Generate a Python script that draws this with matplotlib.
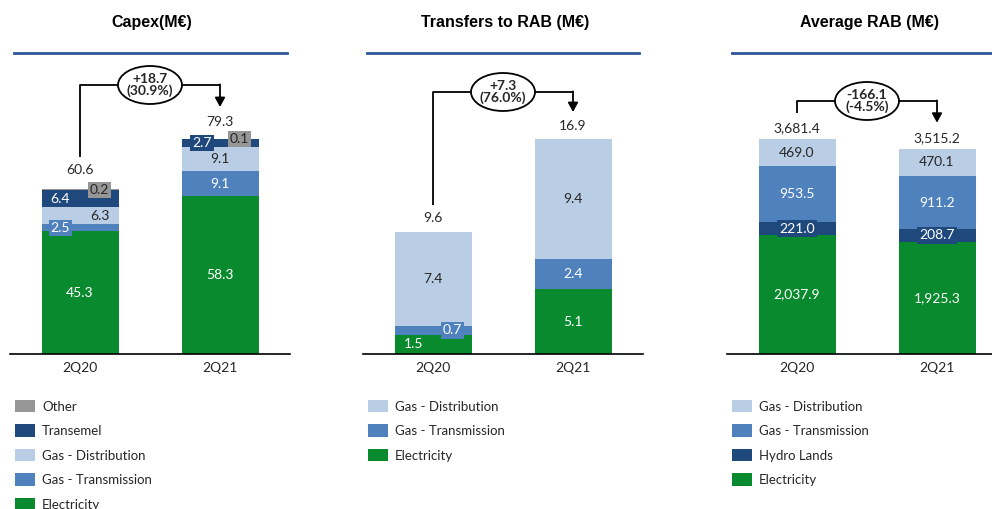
import matplotlib
matplotlib.use('Agg')
import matplotlib.pyplot as plt
from matplotlib.patches import Patch, Ellipse
from matplotlib.lines import Line2D

# ---------------- data ----------------
periods = ['2Q20', '2Q21']

capex_electricity = [45.3, 58.3]
capex_gas_transmission = [2.5, 9.1]
capex_gas_distribution = [6.3, 9.1]
capex_transemel = [6.4, 2.7]
capex_other = [0.2, 0.1]
capex_total = [60.6, 79.3]
capex_change = '+18.7\n(30.9%)'

transfers_electricity = [1.5, 5.1]
transfers_gas_transmission = [0.7, 2.4]
transfers_gas_distribution = [7.4, 9.4]
transfers_total = [9.6, 16.9]
transfers_change = '+7.3\n(76.0%)'

rab_electricity = [2037.9, 1925.3]
rab_hydro_lands = [221.0, 208.7]
rab_gas_transmission = [953.5, 911.2]
rab_gas_distribution = [469.0, 470.1]
rab_total = [3681.4, 3515.2]
rab_change = '-166.1\n(-4.5%)'

titles = ['Capex(M€)', 'Transfers to RAB (M€)', 'Average RAB (M€)']

# ---------------- style ----------------
W, H = 992, 509
fig = plt.figure(figsize=(W / 100, H / 100), dpi=100)
FONT = 'Lato'
TFONT = 'Liberation Sans'
GREEN = '#0A8A2E'
GT = '#4F81BD'
GD = '#B9CDE5'
DARK = '#1F497D'
GRAY = '#969696'
TXT = '#262626'
LINEBLUE = '#2F5597'
BASE_PX, TOP_PX = 354, 60
MAXBAR_PX = 215
BARW = 0.55
LBL = 10


def px_axes(left, right):
    ax = fig.add_axes([left / W, 1 - BASE_PX / H, (right - left) / W, (BASE_PX - TOP_PX) / H])
    for s in ['top', 'right', 'left']:
        ax.spines[s].set_visible(False)
    ax.spines['bottom'].set_color('black')
    ax.spines['bottom'].set_linewidth(1.2)
    ax.set_yticks([])
    ax.set_xticks([0, 1])
    ax.set_xticklabels(periods, fontfamily=FONT, fontsize=10, color=TXT)
    ax.tick_params(axis='x', length=0, pad=6)
    return ax


def fmt(v, comma):
    return f'{v:,.1f}' if comma else f'{v:.1f}'


def panel(ax, series, totals, change, total_off_px, bracket_px, comma=False):
    ymax = max(totals) * (BASE_PX - TOP_PX) / MAXBAR_PX
    ax.set_ylim(0, ymax)
    p2d = lambda p: p * ymax / (BASE_PX - TOP_PX)
    bottoms = [0.0, 0.0]
    for vals, color, tcol, boxcol, dxs in series:
        ax.bar([0, 1], vals, BARW, bottom=bottoms, color=color, edgecolor='none', zorder=2)
        for i, v in enumerate(vals):
            bc = boxcol[i] if boxcol is not None else None
            bb = dict(boxstyle='square,pad=0.15', fc=bc, ec='none') if bc is not None else None
            ax.text(i + dxs[i], bottoms[i] + v / 2, fmt(v, comma), ha='center', va='center',
                    fontfamily=FONT, fontsize=LBL, color=tcol, bbox=bb, zorder=4)
        bottoms = [b + v for b, v in zip(bottoms, vals)]
    for i, t in enumerate(totals):
        ax.text(i, t + p2d(total_off_px[i]), fmt(t, comma), ha='center', va='center',
                fontfamily=FONT, fontsize=LBL, color=TXT, zorder=4)
    # change bracket
    y_start = totals[0] + p2d(bracket_px[0])
    y_top = p2d(BASE_PX - bracket_px[1])
    y_tip = totals[1] + p2d(bracket_px[2])
    ax.plot([0, 0, 1, 1], [y_start, y_top, y_top, y_top], color='black', lw=1.3,
            clip_on=False, zorder=3, solid_capstyle='butt')
    ax.annotate('', xy=(1, y_tip), xytext=(1, y_top + p2d(0.6)),
                arrowprops=dict(arrowstyle='-|>,head_length=0.55,head_width=0.3', lw=1.3,
                                color='black', shrinkA=0, shrinkB=0), annotation_clip=False, zorder=3)
    ell = Ellipse((0.5, y_top), 64 / 140, p2d(38), fc='white', ec='black', lw=1.3,
                  clip_on=False, zorder=5)
    ax.add_patch(ell)
    ax.text(0.5, y_top, change, ha='center', va='center', fontfamily=FONT, fontweight='bold',
            fontsize=10, color=TXT, linespacing=1.0, zorder=6, clip_on=False)


# ---------------- panel 1 : Capex ----------------
ax1 = px_axes(10, 290)
ax1.set_xlim(-0.5, 1.5)
panel(ax1, [
    (capex_electricity, GREEN, 'white', None, [0, 0]),
    (capex_gas_transmission, GT, 'white', [GT, None], [-0.14, 0]),
    (capex_gas_distribution, GD, TXT, None, [0.14, 0]),
    (capex_transemel, DARK, 'white', [None, DARK], [-0.14, -0.13]),
    (capex_other, GRAY, TXT, [GRAY, GRAY], [0.14, 0.14]),
], capex_total, capex_change, [20, 17], [33, 85, 32])

# ---------------- panel 2 : Transfers ----------------
ax2 = px_axes(363, 643)
ax2.set_xlim(-0.5, 1.5)
panel(ax2, [
    (transfers_electricity, GREEN, 'white', None, [-0.14, 0]),
    (transfers_gas_transmission, GT, 'white', [GT, None], [0.14, 0]),
    (transfers_gas_distribution, GD, TXT, None, [0, 0]),
], transfers_total, transfers_change, [14, 13], [27, 92, 27])

# ---------------- panel 3 : Average RAB ----------------
ax3 = px_axes(727, 992)
ax3.set_xlim(-0.5, (992 - 797) / 140)
panel(ax3, [
    (rab_electricity, GREEN, 'white', None, [0, 0]),
    (rab_hydro_lands, DARK, 'white', [DARK, DARK], [0, 0]),
    (rab_gas_transmission, GT, 'white', None, [0, 0]),
    (rab_gas_distribution, GD, TXT, None, [0, 0]),
], rab_total, rab_change, [11, 11], [26, 101, 26], comma=True)

# ---------------- titles & rules ----------------
for (cx, x0, x1), t in zip([(152, 14, 287), (505, 367, 639), (869, 732, 992)], titles):
    fig.text(cx / W, 1 - 22 / H, t, ha='center', va='center', fontfamily=TFONT,
             fontweight='bold', fontsize=11.5, color='black')
    fig.add_artist(Line2D([x0 / W, x1 / W], [1 - 53 / H, 1 - 53 / H], color=LINEBLUE, lw=2))

# ---------------- legends ----------------
def legend(items, x, y):
    handles = [Patch(fc=c, ec='none', label=l) for l, c in items]
    fig.legend(handles=handles, loc='upper left', bbox_to_anchor=(x / W, 1 - y / H),
               frameon=False, borderpad=0, borderaxespad=0, handlelength=1.5,
               handleheight=1.05, handletextpad=0.55, labelspacing=0.9,
               prop=dict(family=FONT, size=9.5), labelcolor=TXT)

legend([('Other', GRAY), ('Transemel', DARK), ('Gas - Distribution', GD),
        ('Gas - Transmission', GT), ('Electricity', GREEN)], 15, 400)
legend([('Gas - Distribution', GD), ('Gas - Transmission', GT), ('Electricity', GREEN)], 368, 400)
legend([('Gas - Distribution', GD), ('Gas - Transmission', GT), ('Hydro Lands', DARK),
        ('Electricity', GREEN)], 732, 400)

fig.savefig('out.png', dpi=100, facecolor='white')
